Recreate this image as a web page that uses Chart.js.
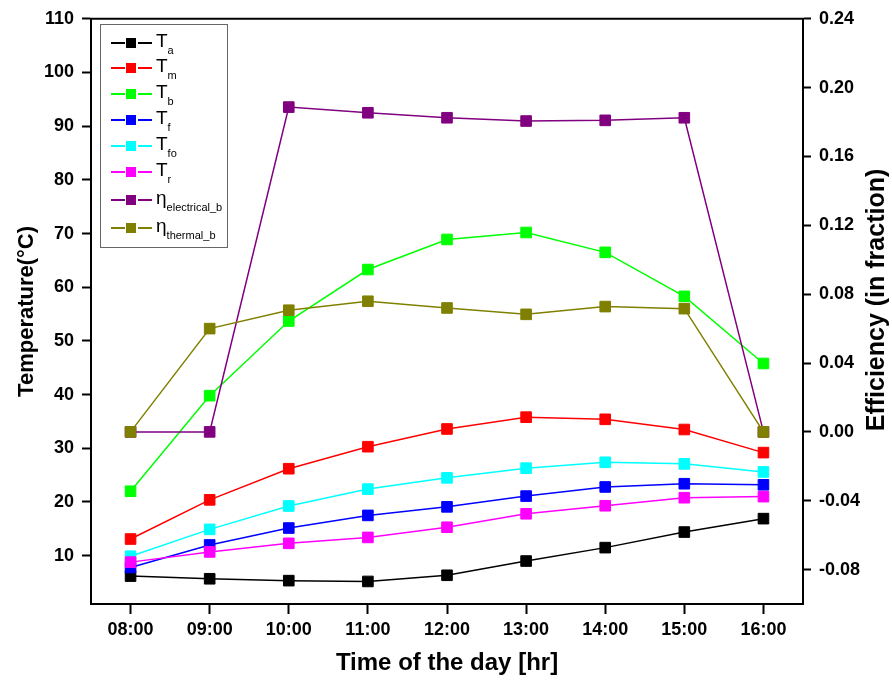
<!DOCTYPE html>
<html>
<head>
<meta charset="utf-8">
<title>Temperature and efficiency over the day</title>
<script src="https://cdn.jsdelivr.net/npm/chart.js@4.4.0/dist/chart.umd.min.js"></script>
<style>
html, body { margin: 0; padding: 0; background: #fff; }
#wrap { position: relative; width: 892px; height: 683px; }
#legend {
        position: absolute; left: 100px; top: 24px; width: 128px; height: 224px;
        border: 1px solid #666; box-sizing: border-box;
        font-family: 'Liberation Sans', Arial, sans-serif; color: #000;
}
#legend .row { position: absolute; left: 10px; height: 20px; display: flex; align-items: center; }
#legend .sym { position: relative; width: 41px; height: 20px; }
#legend .ln { position: absolute; top: 9px; height: 1.5px; width: 14px; }
#legend .sq { position: absolute; left: 15px; top: 5px; width: 10px; height: 10px; }
#legend .txt { font-size: 19px; line-height: 20px; margin-left: 4px; position: relative; top: -2px; white-space: nowrap; }
#legend .txt sub { font-size: 11px; vertical-align: -7px; line-height: 0; }
</style>
</head>
<body>
<div id="wrap">
<canvas id="myChart" width="892" height="683"></canvas>
<div id="legend"></div>
</div>
<script>
const hours = ['08:00', '09:00', '10:00', '11:00', '12:00', '13:00', '14:00', '15:00', '16:00'];

// temperatures, deg C (left axis)
const tAmbient  = [6.2, 5.7, 5.35, 5.2, 6.35, 9.0, 11.5, 14.4, 16.9];
const tModule   = [13.1, 20.4, 26.2, 30.3, 33.6, 35.8, 35.4, 33.5, 29.2];
const tBack     = [22.0, 39.8, 53.7, 63.3, 68.9, 70.2, 66.5, 58.3, 45.8];
const tFluid    = [7.8, 12.0, 15.15, 17.5, 19.1, 21.1, 22.8, 23.4, 23.2];
const tFluidOut = [9.9, 14.9, 19.25, 22.4, 24.5, 26.3, 27.4, 27.1, 25.6];
const tRoom     = [8.8, 10.7, 12.3, 13.4, 15.3, 17.8, 19.3, 20.8, 21.0];

// efficiencies, fraction (right axis)
const etaElectrical = [0.000, 0.000, 0.1887, 0.1854, 0.1825, 0.1806, 0.1810, 0.1825, 0.000];
const etaThermal    = [0.000, 0.060, 0.0707, 0.0759, 0.0720, 0.0683, 0.0728, 0.0716, 0.000];

const tempTicks = [10, 20, 30, 40, 50, 60, 70, 80, 90, 100, 110];
const effTicks = [-0.08, -0.04, 0.00, 0.04, 0.08, 0.12, 0.16, 0.20, 0.24];

const seriesBase = ['T', 'T', 'T', 'T', 'T', 'T', 'η', 'η'];
const seriesSub = ['a', 'm', 'b', 'f', 'fo', 'r', 'electrical_b', 'thermal_b'];
const seriesColors = ['#000000', '#ff0000', '#00ff00', '#0000ff', '#00ffff', '#ff00ff', '#800080', '#808000'];
const seriesData = [tAmbient, tModule, tBack, tFluid, tFluidOut, tRoom, etaElectrical, etaThermal];

const rightTitle = 'Efficiency (in fraction)';

const tickFont = { family: 'Liberation Sans', size: 18, weight: 'bold' };

const datasets = seriesData.map(function(d, i) {
        return {
                label: seriesBase[i] + seriesSub[i],
                data: d,
                yAxisID: i < 6 ? 'y' : 'y1',
                borderColor: seriesColors[i],
                backgroundColor: seriesColors[i],
                borderWidth: 1.5,
                pointStyle: 'rect',
                pointRadius: 7.5,
                pointBorderWidth: 1,
                pointBorderColor: seriesColors[i],
                pointBackgroundColor: seriesColors[i],
                tension: 0,
                order: -i
        };
});

// top edge of the frame + right axis title read bottom-to-top
const frame = {
        id: 'frame',
        afterDraw(chart) {
                const a = chart.chartArea;
                const ctx = chart.ctx;
                ctx.save();
                ctx.strokeStyle = '#000';
                ctx.lineWidth = 2;
                ctx.beginPath();
                ctx.moveTo(a.left - 1, a.top);
                ctx.lineTo(a.right + 1, a.top);
                ctx.stroke();

                ctx.translate(877, 300);
                ctx.rotate(-Math.PI / 2);
                ctx.font = 'bold 25px "Liberation Sans"';
                ctx.fillStyle = '#000';
                ctx.textAlign = 'center';
                ctx.textBaseline = 'middle';
                ctx.fillText(rightTitle, 0, 0);
                ctx.restore();
        }
};

const axisGrid = function(len) {
        return { drawOnChartArea: false, drawTicks: true, tickLength: len, tickWidth: 2, tickColor: '#000' };
};

const config = {
        type: 'line',
        data: { labels: hours, datasets: datasets },
        options: {
                responsive: false,
                animation: false,
                devicePixelRatio: 1,
                layout: { padding: { top: 18, left: 0, right: 0, bottom: 0 } },
                plugins: { legend: { display: false }, tooltip: { enabled: false } },
                scales: {
                        x: {
                                type: 'category',
                                offset: true,
                                grid: Object.assign(axisGrid(10), { offset: false }),
                                border: { color: '#000', width: 2 },
                                ticks: { font: tickFont, color: '#000', padding: 5, maxRotation: 0 },
                                title: {
                                        display: true, text: 'Time of the day [hr]', color: '#000',
                                        font: { family: 'Liberation Sans', size: 24, weight: 'bold' },
                                        padding: { top: 0, bottom: 5 }
                                },
                                afterFit(s) { s.height = 79; }
                        },
                        y: {
                                position: 'left',
                                min: 1,
                                max: 110,
                                grid: axisGrid(9),
                                border: { color: '#000', width: 2 },
                                ticks: { font: tickFont, color: '#000', padding: 8 },
                                afterBuildTicks(s) { s.ticks = tempTicks.map(v => ({ value: v })); },
                                title: {
                                        display: true, text: 'Temperature(°C)', color: '#000',
                                        font: { family: 'Liberation Sans', size: 22, weight: 'bold' },
                                        padding: { top: 14, bottom: 0 }
                                },
                                afterFit(s) { s.width = 91; }
                        },
                        y1: {
                                position: 'right',
                                min: -0.10,
                                max: 0.24,
                                grid: axisGrid(8),
                                border: { color: '#000', width: 2 },
                                ticks: {
                                        font: tickFont, color: '#000', padding: 8,
                                        callback: function(v) { return Number(v).toFixed(2); }
                                },
                                afterBuildTicks(s) { s.ticks = effTicks.map(v => ({ value: v })); },
                                afterFit(s) { s.width = 89; }
                        }
                }
        },
        plugins: [frame]
};

const myChart = new Chart(document.getElementById('myChart'), config);

// legend with subscripts, built from the datasets
const legend = document.getElementById('legend');
const rowTops = [8, 33, 59, 85, 111, 137, 165, 193];
myChart.data.datasets.forEach(function(ds, i) {
        const row = document.createElement('div');
        row.className = 'row';
        row.style.top = rowTops[i] + 'px';
        const c = ds.borderColor;
        row.innerHTML =
                '<span class="sym">' +
                '<i class="ln" style="left:0;background:' + c + '"></i>' +
                '<b class="sq" style="background:' + c + '"></b>' +
                '<i class="ln" style="right:0;background:' + c + '"></i>' +
                '</span>' +
                '<span class="txt">' + seriesBase[i] + '<sub>' + seriesSub[i] + '</sub></span>';
        legend.appendChild(row);
});
</script>
</body>
</html>
